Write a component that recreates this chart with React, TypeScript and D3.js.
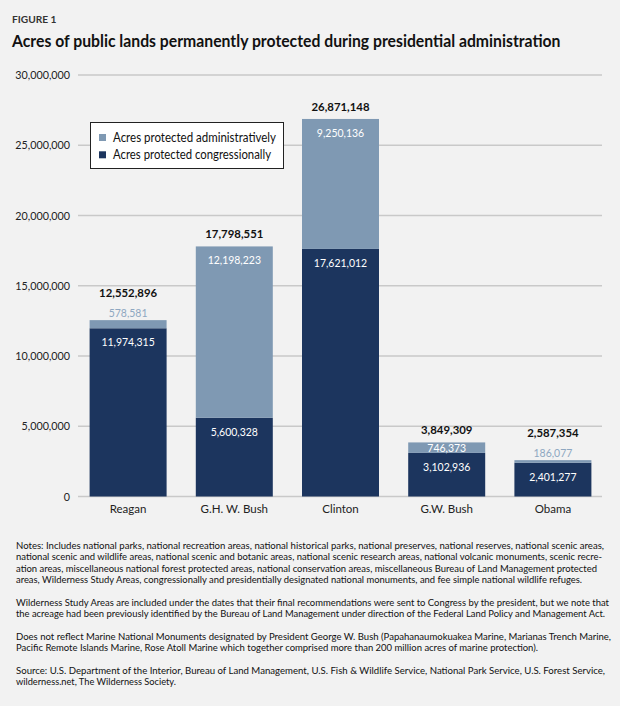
import React from "react";
import * as d3 from "d3";

const PRESIDENTS = ["Reagan", "G.H. W. Bush", "Clinton", "G.W. Bush", "Obama"];
const CONGRESSIONAL = [11974315, 5600328, 17621012, 3102936, 2401277];
const ADMINISTRATIVE = [578581, 12198223, 9250136, 746373, 186077];
const TOTALS = [12552896, 17798551, 26871148, 3849309, 2587354];
const Y_TICKS = [0, 5000000, 10000000, 15000000, 20000000, 25000000, 30000000];
const SERIES_NAMES = ["Acres protected administratively", "Acres protected congressionally"];

const NOTES = [
  [
    "Notes: Includes  national parks, national recreation areas, national historical parks, national preserves, national reserves, national scenic areas,",
    "national scenic and wildlife areas, national scenic and botanic areas, national scenic research areas, national volcanic monuments, scenic recre-",
    "ation areas, miscellaneous national forest protected areas, national conservation areas, miscellaneous Bureau of Land Management protected",
    "areas, Wilderness Study Areas, congressionally and presidentially designated national monuments, and fee simple national wildlife refuges.",
  ],
  [
    "Wilderness Study Areas are included under the dates that their final recommendations were sent to Congress by the president, but we note that",
    "the acreage had been previously identified by the Bureau of Land Management under direction of the Federal Land Policy and Management Act.",
  ],
  [
    "Does not reflect Marine National Monuments designated by President George W. Bush (Papahanaumokuakea Marine, Marianas Trench Marine,",
    "Pacific Remote Islands Marine, Rose Atoll Marine which together comprised more than 200 million acres of marine protection).",
  ],
  [
    "Source: U.S. Department of the Interior, Bureau of Land Management, U.S. Fish & Wildlife Service, National Park Service, U.S. Forest Service,",
    "wilderness.net, The Wilderness Society.",
  ],
];
// measured line widths of the notes block (layout)
const NOTE_WIDTHS = [588, 586, 581, 566, 593, 589, 595, 522, 589, 160];
const LEGEND_WIDTHS = [163, 158];

const FONT = "Lato, 'Open Sans', sans-serif";
const NAVY = "#1c355e";
const LIGHT = "#7f99b3";
const LIGHT_TEXT = "#8ea7c1";
const fmt = d3.format(",");

// approximate width of a condensed-humanist number string
function numWidth(s: string, fs: number, bold: boolean) {
  let w = 0;
  for (const c of s) {
    if (c === ",") w += bold ? 0.24 : 0.207;
    else w += bold ? 0.555 : 0.513;
  }
  return w * fs;
}

function Num(props: any) {
  const { text, fs, bold, ...rest } = props;
  return (
    <text
      {...rest}
      fontSize={fs}
      fontWeight={bold ? "bold" : "normal"}
      textLength={numWidth(text, fs, bold)}
      lengthAdjust="spacingAndGlyphs"
    >
      {text}
    </text>
  );
}

export default function App() {
  const W = 620;
  const H = 706;
  const x = d3
    .scaleBand<string>()
    .domain(PRESIDENTS)
    .range([75, 606])
    .paddingInner(0.275)
    .paddingOuter(0.1375);
  const y = d3.scaleLinear().domain([0, 30000000]).range([496.5, 75]);

  const rows = PRESIDENTS.map((p, i) => ({
    name: p,
    cong: CONGRESSIONAL[i],
    admin: ADMINISTRATIVE[i],
    total: TOTALS[i],
  }));
  const stack = d3.stack<any>().keys(["cong", "admin"])(rows);
  const colors: Record<string, string> = { cong: NAVY, admin: LIGHT };

  let lineY = 548.5;
  const noteLines: { t: string; y: number }[] = [];
  NOTES.forEach((para) => {
    para.forEach((t) => {
      noteLines.push({ t, y: lineY });
      lineY += 11.5;
    });
    lineY += 11;
  });

  return (
    <div style={{ position: "absolute", left: 0, top: 0 }}>
      <svg width={W} height={H} style={{ display: "block" }} fontFamily={FONT}>
        <rect width={W} height={H} fill="#f2f2f2" />
        <text x={12} y={23} fontSize={9.5} fontWeight="bold" fill="#333" textLength={44.5} lengthAdjust="spacingAndGlyphs">
          FIGURE 1
        </text>
        <text
          x={12}
          y={46.5}
          fontSize={17.5}
          fontWeight="bold"
          fill="#111"
          textLength={548.5}
          lengthAdjust="spacingAndGlyphs"
        >
          Acres of public lands permanently protected during presidential administration
        </text>

        {Y_TICKS.map((t) => (
          <g key={t}>
            <line x1={78} x2={602} y1={y(t)} y2={y(t)} stroke="#c9c9c9" strokeWidth={1.3} />
            <Num text={fmt(t)} fs={12.1} x={70} y={y(t)} dy="0.35em" textAnchor="end" fill="#222" />
          </g>
        ))}

        {stack.map((s) =>
          s.map((d, i) => (
            <rect
              key={s.key + i}
              x={x(PRESIDENTS[i])}
              width={x.bandwidth()}
              y={y(d[1])}
              height={y(d[0]) - y(d[1])}
              fill={colors[s.key]}
            />
          ))
        )}

        {rows.map((r) => {
          const cx = (x(r.name) as number) + x.bandwidth() / 2;
          const topT = y(r.total);
          const topC = y(r.cong);
          const adminH = topC - topT;
          const inside = adminH >= 9;
          return (
            <g key={r.name} textAnchor="middle">
              <Num
                text={fmt(r.total)}
                fs={11.8}
                bold
                x={cx}
                y={inside ? topT - 8 : topT - 23}
                fill="#111"
              />
              <Num
                text={fmt(r.admin)}
                fs={11.8}
                x={cx}
                y={inside ? topT + Math.min(18, adminH - 0.5) : topT - 3.5}
                fill={inside ? "#fff" : LIGHT_TEXT}
              />
              <Num text={fmt(r.cong)} fs={11.8} x={cx} y={topC + 18} fill="#fff" />
              <text x={cx} y={513} fontSize={11.5} fill="#222">
                {r.name}
              </text>
            </g>
          );
        })}

        <g>
          <rect x={90.5} y={122.5} width={193} height={46} fill="#fff" stroke="#222" strokeWidth={1} />
          {SERIES_NAMES.map((n, i) => (
            <g key={n}>
              <rect x={99} y={134 + i * 17.3} width={7} height={7} fill={i === 0 ? LIGHT : NAVY} />
              <text
                x={113}
                y={142 + i * 17.3}
                fontSize={12.5}
                fill="#111"
                textLength={LEGEND_WIDTHS[i]}
                lengthAdjust="spacingAndGlyphs"
              >
                {n}
              </text>
            </g>
          ))}
        </g>

        {noteLines.map((l, i) => (
          <text
            key={i}
            x={16}
            y={l.y}
            fontSize={9.4}
            fill="#111"
            textLength={NOTE_WIDTHS[i]}
            lengthAdjust="spacingAndGlyphs"
          >
            {l.t}
          </text>
        ))}
      </svg>
    </div>
  );
}
